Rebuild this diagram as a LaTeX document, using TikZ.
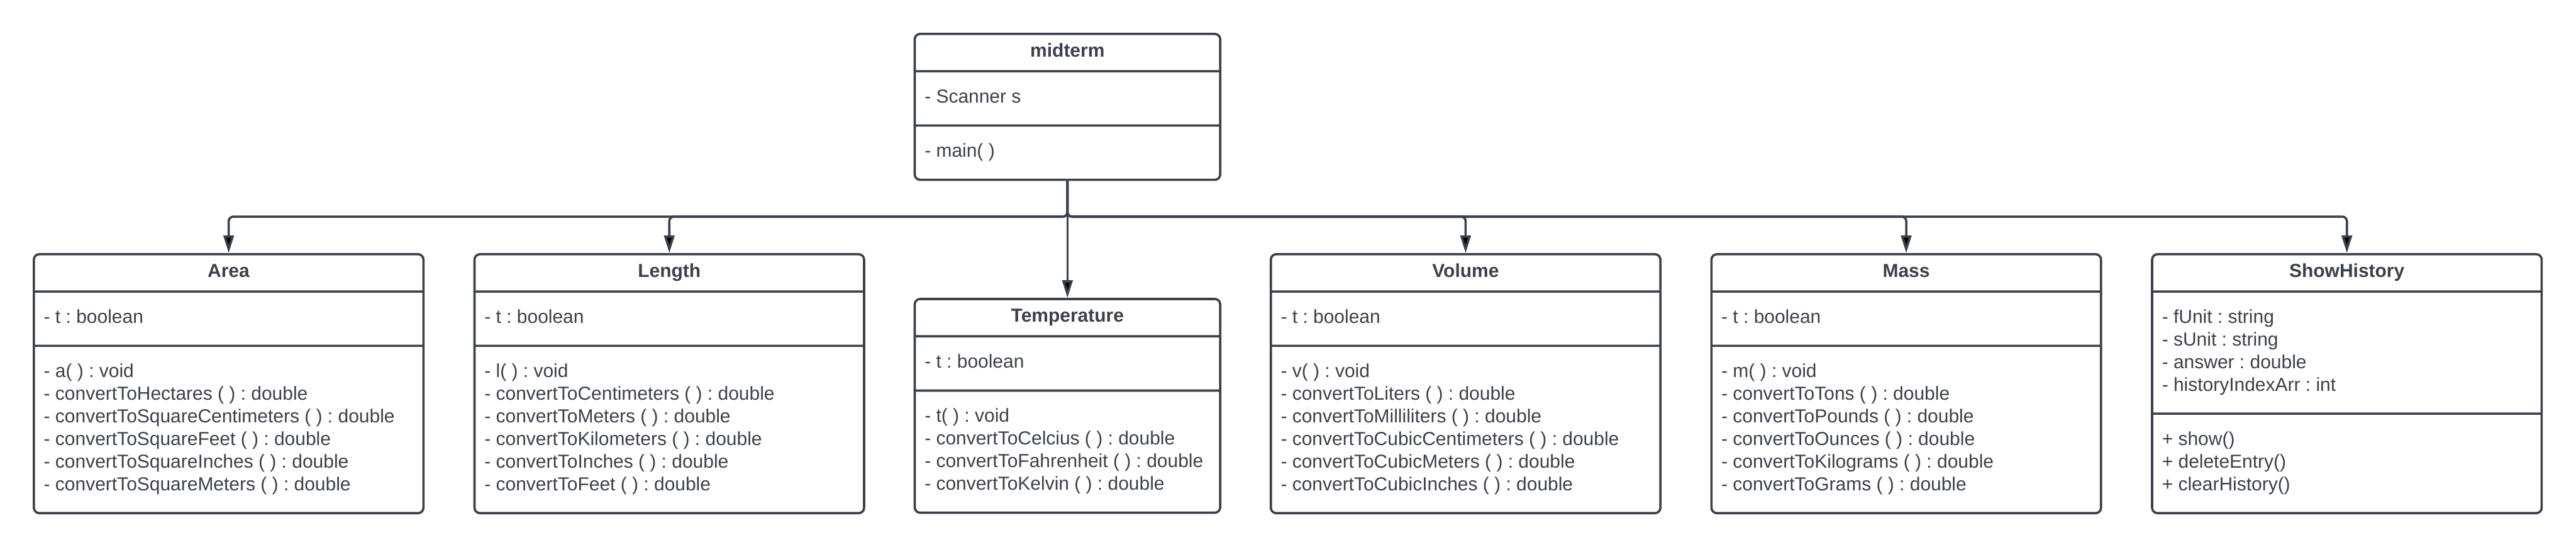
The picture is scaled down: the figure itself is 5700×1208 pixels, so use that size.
\documentclass[tikz,border=0pt]{standalone}
\usepackage{fontspec}
\setmainfont{Liberation Sans}
\usetikzlibrary{shapes.multipart,arrows.meta}
\definecolor{umlgray}{HTML}{3A414A}
\frenchspacing
\newcommand\classtitle[1]{\textbf{#1}\rule[-1.45mm]{0pt}{4.75mm}}
\newcommand\classrows[1]{\vbox{\vskip1.75mm\hbox{\begin{tabular}{@{}l@{}}#1\end{tabular}}\vskip1.75mm}}

\begin{document}
\begin{tikzpicture}[x=0.1mm,y=-0.1mm,
    umlclass/.style={rectangle split, rectangle split parts=3,
        rectangle split part align={center,left,left},
        draw=umlgray, line width=0.5mm, rounded corners=1.2mm,
        text=umlgray, inner xsep=2.2mm, inner ysep=1.5mm,
        font=\fontsize{4.17mm}{5mm}\selectfont, anchor=north},
    wide/.style={minimum width=86.2mm},
    narrow/.style={minimum width=67.6mm},
    link/.style={draw=umlgray, line width=0.5mm, rounded corners=1mm,
        -{Triangle[length=3.9mm,width=2.3mm]}}]

\useasboundingbox (0,0) rectangle (5700,1208);

\node[umlclass, narrow] (midterm) at (2362,72.5)
  {\classtitle{midterm}
   \nodepart{second}\classrows{- Scanner s}
   \nodepart{third}\classrows{- main( )}};

\node[umlclass, wide] (area) at (506,559.5)
  {\classtitle{Area}
   \nodepart{second}\classrows{- t : boolean}
   \nodepart{third}\classrows{- a( ) : void\\
     - convertToHectares ( ) : double\\
     - convertToSquareCentimeters ( ) : double\\
     - convertToSquareFeet ( ) : double\\
     - convertToSquareInches ( ) : double\\
     - convertToSquareMeters ( ) : double}};

\node[umlclass, wide] (length) at (1481,559.5)
  {\classtitle{Length}
   \nodepart{second}\classrows{- t : boolean}
   \nodepart{third}\classrows{- l( ) : void\\
     - convertToCentimeters ( ) : double\\
     - convertToMeters ( ) : double\\
     - convertToKilometers ( ) : double\\
     - convertToInches ( ) : double\\
     - convertToFeet ( ) : double}};

\node[umlclass, narrow] (temperature) at (2362,658.5)
  {\classtitle{Temperature}
   \nodepart{second}\classrows{- t : boolean}
   \nodepart{third}\classrows{- t( ) : void\\
     - convertToCelcius ( ) : double\\
     - convertToFahrenheit ( ) : double\\
     - convertToKelvin ( ) : double}};

\node[umlclass, wide] (volume) at (3243,559.5)
  {\classtitle{Volume}
   \nodepart{second}\classrows{- t : boolean}
   \nodepart{third}\classrows{- v( ) : void\\
     - convertToLiters ( ) : double\\
     - convertToMilliliters ( ) : double\\
     - convertToCubicCentimeters ( ) : double\\
     - convertToCubicMeters ( ) : double\\
     - convertToCubicInches ( ) : double}};

\node[umlclass, wide] (mass) at (4218,559.5)
  {\classtitle{Mass}
   \nodepart{second}\classrows{- t : boolean}
   \nodepart{third}\classrows{- m( ) : void\\
     - convertToTons ( ) : double\\
     - convertToPounds ( ) : double\\
     - convertToOunces ( ) : double\\
     - convertToKilograms ( ) : double\\
     - convertToGrams ( ) : double}};

\node[umlclass, wide] (history) at (5193,559.5)
  {\classtitle{ShowHistory}
   \nodepart{second}\classrows{- fUnit : string\\
     - sUnit : string\\
     - answer : double\\
     - historyIndexArr : int}
   \nodepart{third}\classrows{+ show()\\
     + deleteEntry()\\
     + clearHistory()}};

\coordinate (bus) at (2362,479);
\foreach \c in {area,length,volume,mass,history}
  \draw[link] (midterm.south) -- (bus) -| (\c.north);
\draw[link] (midterm.south) -- (temperature.north);

\end{tikzpicture}
\end{document}
